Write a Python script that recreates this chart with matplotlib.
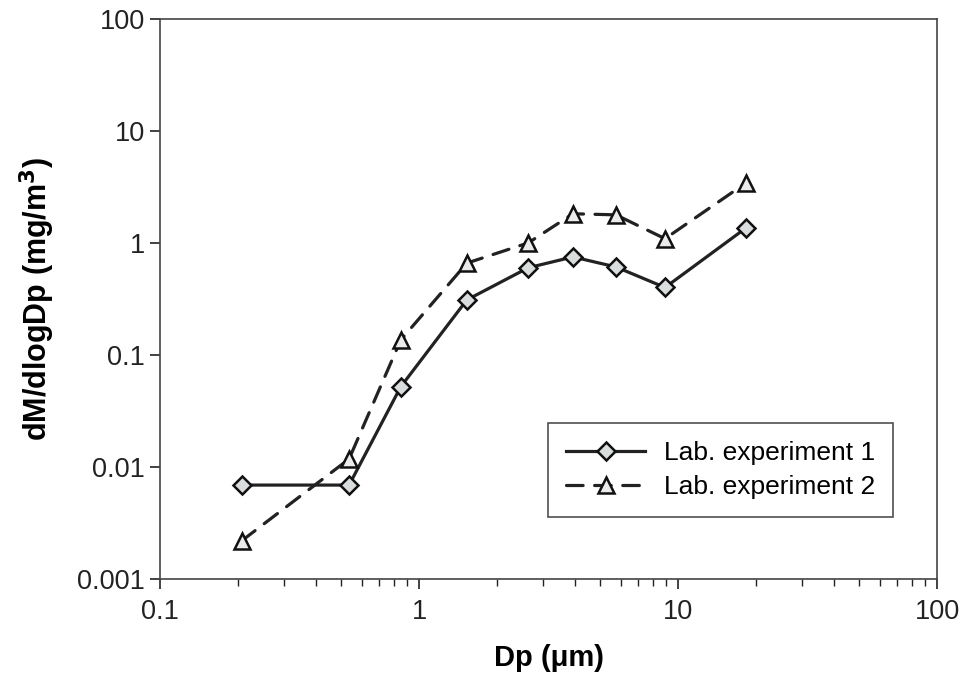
import matplotlib.pyplot as plt
import matplotlib.ticker as mticker

plt.rcParams['font.family'] = ['Liberation Sans', 'DejaVu Sans']

# particle diameter (um) and mass size distributions
dp = [0.207, 0.537, 0.85, 1.53, 2.64, 3.93, 5.76, 8.91, 18.3]
exp1 = [0.0069, 0.0069, 0.052, 0.31, 0.60, 0.75, 0.61, 0.40, 1.36]
exp2 = [0.0022, 0.0118, 0.136, 0.66, 1.0, 1.82, 1.78, 1.09, 3.43]
labels = ['Lab. experiment 1', 'Lab. experiment 2']

fig = plt.figure(figsize=(9.64, 6.96), dpi=100)
ax = fig.add_axes([0.166, 0.168, 0.806, 0.805])

ax.plot(dp, exp1, color='#222222', lw=2.3, marker='D', ms=9.5,
        mfc='#d9dddd', mec='#111111', mew=1.8, label=labels[0])
ax.plot(dp, exp2, color='#222222', lw=2.3, marker='^', ms=11,
        mfc='#ebebeb', mec='#111111', mew=1.8, label=labels[1],
        dashes=(5.2, 3.6), dash_capstyle='round')

ax.set_xscale('log')
ax.set_yscale('log')
ax.set_xlim(0.1, 100)
ax.set_ylim(0.001, 100)

ax.xaxis.set_major_locator(mticker.FixedLocator([0.1, 1, 10, 100]))
ax.xaxis.set_major_formatter(mticker.FixedFormatter(['0.1', '1', '10', '100']))
ax.xaxis.set_minor_locator(mticker.LogLocator(base=10, subs=range(2, 10)))
ax.xaxis.set_minor_formatter(mticker.NullFormatter())
ax.yaxis.set_major_locator(mticker.FixedLocator([0.001, 0.01, 0.1, 1, 10, 100]))
ax.yaxis.set_major_formatter(mticker.FixedFormatter(['0.001', '0.01', '0.1', '1', '10', '100']))
ax.yaxis.set_minor_locator(mticker.NullLocator())

ax.tick_params(which='major', direction='out', length=7, width=1.2,
               labelsize=19.5, pad=7, colors='#222222')
ax.tick_params(axis='y', pad=4)
ax.tick_params(which='minor', direction='out', length=5, width=1.0, colors='#222222')
for s in ax.spines.values():
    s.set_linewidth(1.2)
    s.set_color('#444444')

ax.set_xlabel('Dp (\u03bcm)', fontsize=21, fontweight='bold', labelpad=14)
ax.set_ylabel('dM/dlogDp (mg/m$^\\mathbf{3}$)', fontsize=22, fontweight='bold', labelpad=14)

leg = ax.legend(loc='lower right', bbox_to_anchor=(0.944, 0.11), fontsize=19,
                frameon=True, fancybox=False, edgecolor='#222222',
                handlelength=3.0, handletextpad=0.7, borderpad=0.7,
                borderaxespad=0, labelspacing=0.37)
leg.get_frame().set_linewidth(1.2)

fig.savefig('out.png', dpi=100)
